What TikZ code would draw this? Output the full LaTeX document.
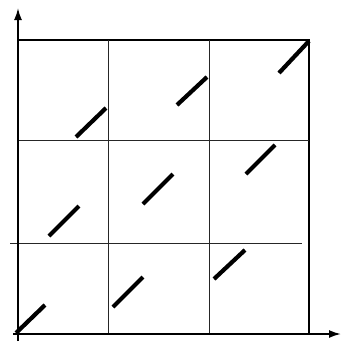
\documentclass[tikz,border=0pt]{standalone}
\usetikzlibrary{arrows.meta}
\begin{document}
\begin{tikzpicture}[x=1pt,y=-1pt,
  boxline/.style={line width=1.8pt,black},
  gridline/.style={line width=0.9pt,black!85},
  axisline/.style={line width=1.8pt,black,-{Latex[length=12pt,width=8pt]}},
  seg/.style={line width=4.2pt,black}]
\useasboundingbox (0,0) rectangle (342,343);
% frame
\coordinate (TL) at (18,40);
\coordinate (TR) at (309,40);
\coordinate (BR) at (309,334);
\draw[boxline] (TL) -- (TR) -- (BR);
% grid
\coordinate (v1t) at (108,40); \coordinate (v1b) at (108,334);
\coordinate (v2t) at (209,40); \coordinate (v2b) at (209,334);
\coordinate (h1l) at (18,140); \coordinate (h1r) at (309,140);
\coordinate (h2l) at (10,243); \coordinate (h2r) at (302,243);
\draw[gridline] (v1t) -- (v1b);
\draw[gridline] (v2t) -- (v2b);
\draw[gridline] (h1l) -- (h1r);
\draw[gridline] (h2l) -- (h2r);
% axes
\coordinate (ya) at (18,341); \coordinate (yb) at (18,8);
\coordinate (xa) at (13,334); \coordinate (xb) at (341,334);
\draw[axisline] (ya) -- (yb);
\draw[axisline] (xa) -- (xb);
% segments
\foreach \ax/\ay/\bx/\by in {16/333/45/305, 113/307/143/277, 214/279/245/250,
  49/236/79/206, 143/204/173/174, 246/174/275/145,
  76/137/106/108, 177/105/207/77, 279/73/309/41}
  \draw[seg] (\ax,\ay) -- (\bx,\by);
\end{tikzpicture}
\end{document}
